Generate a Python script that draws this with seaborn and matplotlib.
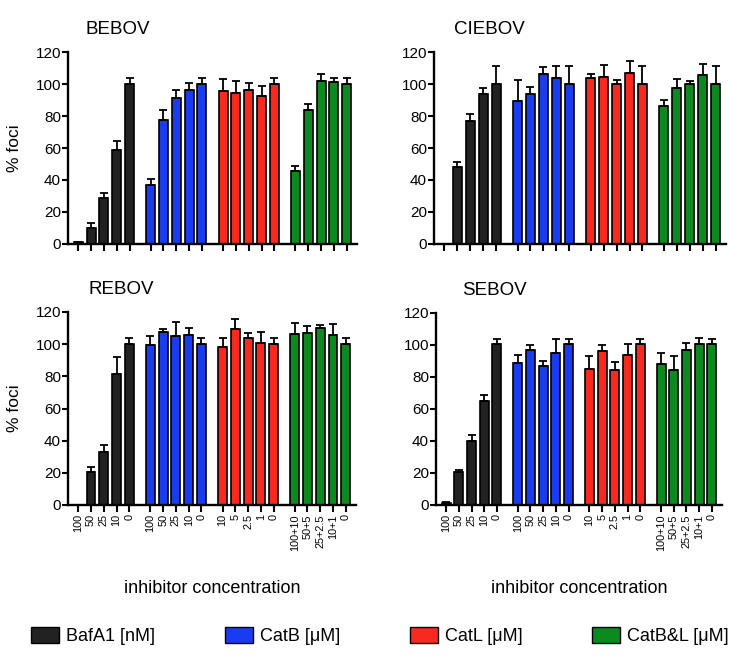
import numpy as np
import pandas as pd
import matplotlib
matplotlib.use("Agg")
import matplotlib.pyplot as plt
import seaborn as sns
from matplotlib.patches import Patch

# =========================
# DATA
# =========================

panels = ["BEBOV", "CIEBOV", "REBOV", "SEBOV"]

treatments = ["BafA1 [nM]", "CatB [μM]", "CatL [μM]", "CatB&L [μM]"]
colors = ["#222222", "#1a3cf0", "#f82a20", "#0c8a20"]

conc_labels = [
    ["100", "50", "25", "10", "0"],
    ["100", "50", "25", "10", "0"],
    ["10", "5", "2.5", "1", "0"],
    ["100+10", "50+5", "25+2.5", "10+1", "0"],
]

bebov_mean = [1, 10, 28.5, 58.5, 100, 37, 77.5, 91, 96, 100,
              95.5, 94.5, 96, 92.5, 100, 45.5, 83.5, 102, 101, 100]
bebov_sem = [0.5, 3, 3.5, 6, 4, 3.5, 6.5, 5.5, 4.5, 4,
             7.5, 7.5, 4.5, 6, 4, 3.5, 4, 4, 3, 4]

ciebov_mean = [0, 48, 77, 94, 100, 89.5, 94, 106.5, 103.5, 100,
               104, 104.5, 99.8, 107, 100, 86.5, 97.3, 99.8, 105.5, 100]
ciebov_sem = [0, 3, 4.2, 3.7, 11.4, 13, 4.3, 4.4, 8, 11.4,
              2.5, 7.6, 2.7, 7.3, 11.4, 3.2, 6, 2, 6.8, 11.4]

rebov_mean = [0, 20.7, 33.2, 81.4, 100, 99.6, 107.5, 105, 105.5, 100,
              98, 109.6, 103.8, 100.8, 100, 106.5, 107, 109.8, 106, 100]
rebov_sem = [0, 2.7, 4.4, 10.5, 4, 5.2, 1.8, 8.6, 4.4, 4,
             6, 6.3, 3.3, 6.8, 4, 6.6, 4, 2, 6.5, 4]

sebov_mean = [1.5, 20.5, 40.2, 65, 100.5, 88.8, 96.8, 86.7, 94.9, 100.5,
              85, 96.1, 84.4, 93.8, 100.5, 88.4, 84.6, 97, 100.5, 100.5]
sebov_sem = [0.5, 1.2, 3.8, 3.6, 3, 5, 3.1, 3.1, 8.8, 3,
             8.2, 3.8, 5, 6.7, 3, 6.7, 8.8, 4.4, 3.8, 3]

means = [bebov_mean, ciebov_mean, rebov_mean, sebov_mean]
sems = [bebov_sem, ciebov_sem, rebov_sem, sebov_sem]

# =========================
# STYLE
# =========================

sns.set_style("ticks", {
    "axes.edgecolor": "black",
    "text.color": "black",
    "axes.labelcolor": "black",
    "xtick.color": "black",
    "ytick.color": "black",
})
plt.rcParams["font.family"] = ["Liberation Sans", "DejaVu Sans"]

# bar positions: 5 bars per group, gap between groups
group_step = 5.65
pos = []
group_of = []
tick_text = []
for g, labs in enumerate(conc_labels):
    for i, lab in enumerate(labs):
        pos.append(g * group_step + i)
        group_of.append(treatments[g])
        tick_text.append(lab)
pos = np.array(pos)

fig = plt.figure(figsize=(7.31, 6.6), dpi=100)
W, H = 731, 660

# left, top(px), right, bottom(px)
rects = [
    (68, 52, 357, 244),
    (434, 52, 726, 244),
    (68, 312, 356, 505),
    (436, 313, 722, 505),
]
title_x = [0.06, 0.07, 0.07, 0.09]

for k, name in enumerate(panels):
    l, t, r, b = rects[k]
    ax = fig.add_axes([l / W, 1 - b / H, (r - l) / W, (b - t) / H])

    d = pd.DataFrame({
        "pos": pos,
        "mean": means[k],
        "sem": sems[k],
        "treatment": group_of,
    })

    sns.barplot(
        data=d, x="pos", y="mean", hue="treatment",
        hue_order=treatments, palette=colors,
        native_scale=True, dodge=False, width=0.7,
        errorbar=None, saturation=1,
        edgecolor="black", linewidth=1.2,
        legend=False, ax=ax
    )

    ax.errorbar(
        d["pos"], d["mean"],
        yerr=[np.zeros(len(d)), d["sem"]],
        fmt="none", ecolor="black",
        elinewidth=1.3, capsize=2.6, capthick=1.3
    )

    ax.set_xlim(-0.8, 3 * group_step + 4 + 0.8)
    ax.set_ylim(0, 120)
    ax.set_yticks(np.arange(0, 121, 20))
    ax.set_xticks(pos)

    sns.despine(ax=ax)
    for s in ["left", "bottom"]:
        ax.spines[s].set_linewidth(1.7)

    ax.tick_params(axis="y", direction="out", length=4, width=1.5,
                   labelsize=11, pad=1)
    ax.tick_params(axis="x", direction="out", length=5, width=1.5,
                   labelsize=7.8, pad=1.5)

    if k >= 2:
        ax.set_xticklabels(tick_text, rotation=90)
        ax.set_xlabel("inhibitor concentration", fontsize=13)
        ax.xaxis.set_label_coords(0.5, -0.39)
    else:
        ax.set_xticklabels([])
        ax.set_xlabel("")

    if k % 2 == 0:
        ax.set_ylabel("% foci", fontsize=12.5)
        ax.yaxis.set_label_coords(-0.16, 0.5)
    else:
        ax.set_ylabel("")

    ax.text(title_x[k], 1.115, name, transform=ax.transAxes,
            fontsize=13.5, va="center", ha="left")

# =========================
# LEGEND
# =========================

handles = [
    Patch(facecolor=c, edgecolor="black", linewidth=1.0, label=t)
    for c, t in zip(colors, treatments)
]

fig.legend(
    handles=handles, loc="center", ncol=4, mode="expand",
    bbox_to_anchor=(31 / W, 1 - 636 / H - 0.02, 698 / W, 0.04),
    frameon=False, fontsize=13,
    handlelength=1.55, handleheight=1.0, handletextpad=0.4,
    borderpad=0, borderaxespad=0
)

plt.savefig("out.png", dpi=100)
